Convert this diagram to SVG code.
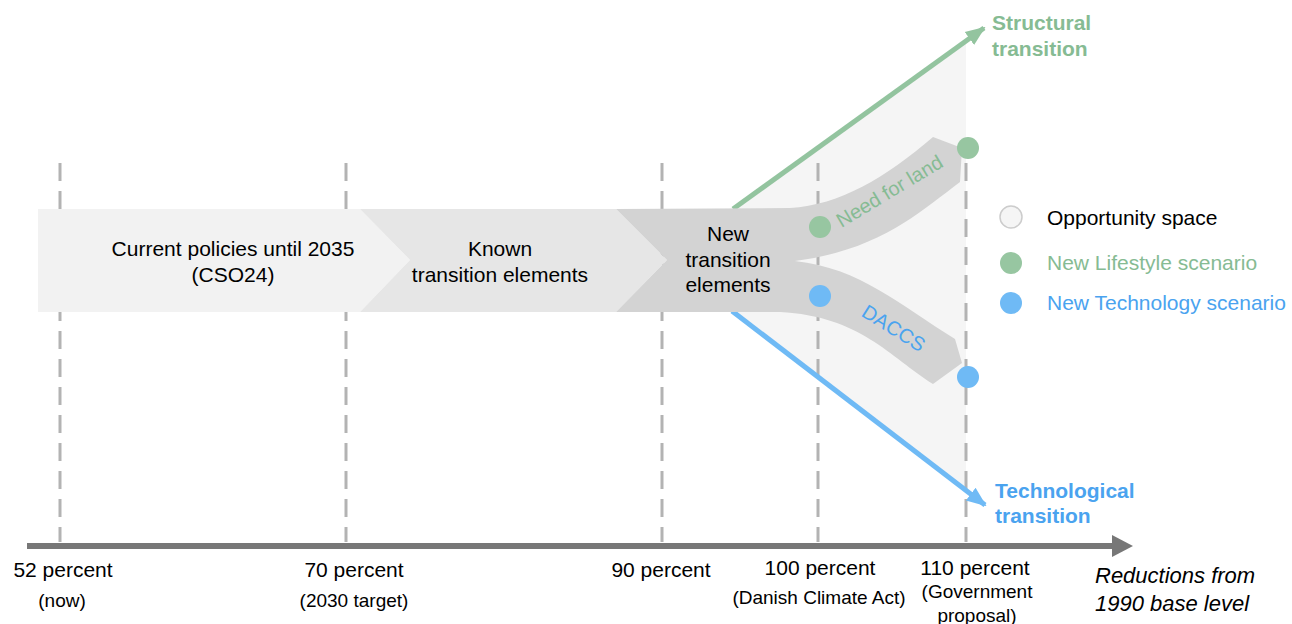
<svg xmlns="http://www.w3.org/2000/svg" width="1292" height="624" viewBox="0 0 1292 624">
<style>
text{font-family:"Liberation Sans",Arial,sans-serif;fill:#000}
.big{font-size:21px}
.sm{font-size:19px}
.mid{text-anchor:middle}
.g{fill:#86bb93}
.b{fill:#4aa3ef}
.bold{font-weight:bold}
.dash{stroke:#b3b3b3;stroke-width:3;stroke-dasharray:18 10;fill:none}
</style>
<defs>
<marker id="ag" markerUnits="userSpaceOnUse" markerWidth="20" markerHeight="20" viewBox="0 0 20 20" refX="18" refY="10" orient="auto"><path d="M0,2 L20,10 L0,18 z" fill="#93c49f"/></marker>
<marker id="ab" markerUnits="userSpaceOnUse" markerWidth="20" markerHeight="20" viewBox="0 0 20 20" refX="18" refY="10" orient="auto"><path d="M0,2 L20,10 L0,18 z" fill="#6fbaf5"/></marker>
</defs>
<rect width="1292" height="624" fill="#fff"/>
<g id="opportunity-space"><polygon points="733,209 966,42 966,490 733,312" fill="#f5f5f5"/></g>
<g id="gridlines">
<line class="dash" x1="60" y1="163" x2="60" y2="542"/>
<line class="dash" x1="346" y1="163" x2="346" y2="542"/>
<line class="dash" x1="662" y1="163" x2="662" y2="542"/>
<line class="dash" x1="818" y1="163" x2="818" y2="542"/>
<line class="dash" x1="966" y1="163" x2="966" y2="542"/>
</g>
<g id="current-policies">
<polygon points="38,209 360,209 410,260 360,312 38,312" fill="#f2f2f2"/>
<text class="big mid" x="233" y="256">Current policies until 2035</text>
<text class="big mid" x="233" y="282">(CSO24)</text>
</g>
<g id="known-elements">
<polygon points="360,209 616,209 667,260 616,312 360,312 410,260" fill="#e6e6e6"/>
<text class="big mid" x="500" y="256">Known</text>
<text class="big mid" x="500" y="282">transition elements</text>
</g>
<g id="connectors">
<line x1="733" y1="209" x2="984" y2="28" stroke="#93c49f" stroke-width="5" marker-end="url(#ag)"/>
<line x1="732" y1="311" x2="985" y2="505" stroke="#6fbaf5" stroke-width="5" marker-end="url(#ab)"/>
</g>
<g id="new-elements">
<path d="M616,209 L790,208 C840,205 885,178 933,137 L962,148 L960,182 C920,212 880,250 795,261 C860,268 900,305 955,339 L962,363 L933,384 C890,357 860,316 780,312 L616,312 L667,260 Z" fill="#d3d3d3"/>
<text class="big mid" x="728" y="241">New</text>
<text class="big mid" x="728" y="267">transition</text>
<text class="big mid" x="728" y="292">elements</text>
<text class="g mid" font-size="20" transform="translate(893,197) rotate(-31)">Need for land</text>
<text class="b mid" font-size="20" transform="translate(890,334) rotate(32)">DACCS</text>
</g>
<g id="scenario-dots">
<circle cx="820" cy="227" r="11" fill="#97c6a1"/>
<circle cx="968" cy="148" r="11" fill="#97c6a1"/>
<circle cx="820" cy="296" r="11" fill="#6fbaf5"/>
<circle cx="968" cy="377" r="11" fill="#6fbaf5"/>
</g>
<g id="structural-label">
<text class="big bold g" x="992" y="30">Structural</text>
<text class="big bold g" x="992" y="56">transition</text>
</g>
<g id="technological-label">
<text class="big bold b" x="995" y="498">Technological</text>
<text class="big bold b" x="995" y="523">transition</text>
</g>
<g id="legend">
<circle cx="1011" cy="217" r="11" fill="#f5f5f5" stroke="#cccccc" stroke-width="1.5"/>
<text class="big" x="1047" y="225">Opportunity space</text>
<circle cx="1011" cy="263" r="11" fill="#97c6a1"/>
<text class="big g" x="1047" y="270">New Lifestyle scenario</text>
<circle cx="1011" cy="303" r="11" fill="#6fbaf5"/>
<text class="big b" x="1047" y="310">New Technology scenario</text>
</g>
<g id="axis">
<line x1="27" y1="546" x2="1115" y2="546" stroke="#777" stroke-width="6"/>
<polygon points="1112,535 1133,546 1112,557" fill="#777"/>
<text class="big mid" x="63" y="577">52 percent</text>
<text class="sm mid" x="62" y="607">(now)</text>
<text class="big mid" x="354" y="577">70 percent</text>
<text class="sm mid" x="354" y="607">(2030 target)</text>
<text class="big mid" x="661" y="577">90 percent</text>
<text class="big mid" x="820" y="575">100 percent</text>
<text class="sm mid" x="819" y="604">(Danish Climate Act)</text>
<text class="big mid" x="975" y="575">110 percent</text>
<text class="sm mid" x="977" y="598">(Government</text>
<text class="sm mid" x="977" y="622">proposal)</text>
<text font-size="22" font-style="italic" x="1095" y="583">Reductions from</text>
<text font-size="22" font-style="italic" x="1095" y="611">1990 base level</text>
</g>
</svg>
